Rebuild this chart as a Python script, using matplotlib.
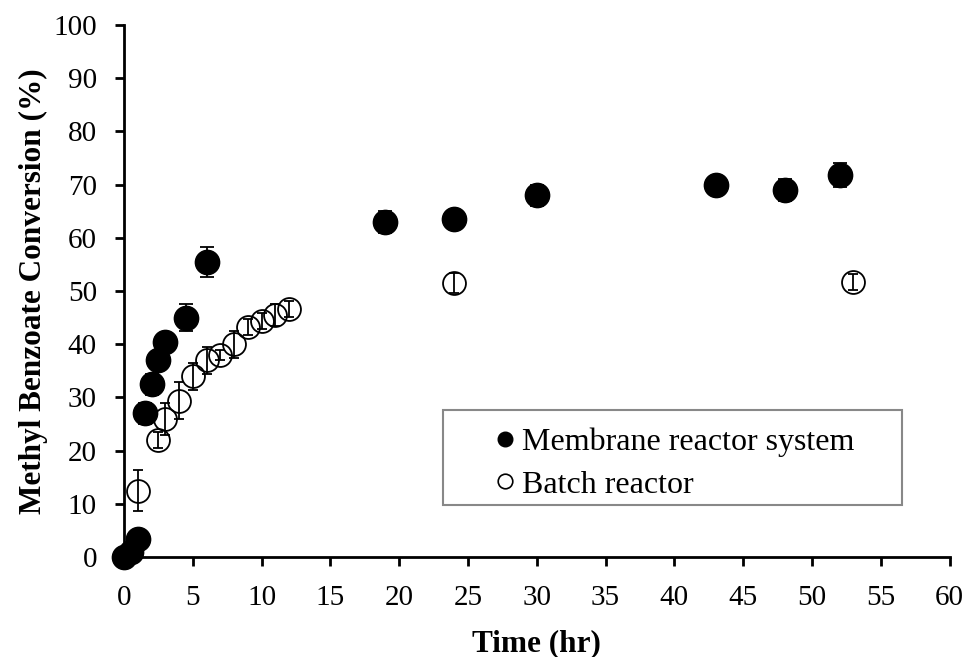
import numpy as np
import matplotlib.pyplot as plt
from matplotlib.lines import Line2D
from matplotlib.patches import Rectangle

# Membrane reactor system (filled)
mem_t = [0, 0.5, 1, 1.5, 2, 2.5, 3, 4.5, 6, 19, 24, 30, 43, 48, 52]
mem_conv = [0, 1, 3.5, 27, 32.5, 37, 40.5, 45, 55.5, 63, 63.5, 68, 70, 69, 71.8]
mem_err = [0.5, 0.5, 0.8, 2, 2, 1.5, 1.5, 2.5, 2.8, 2, 1.5, 2, 1.5, 2, 2.3]

# Batch reactor (open)
bat_t = [1, 2.5, 3, 4, 5, 6, 7, 8, 9, 10, 11, 12, 24, 53]
bat_conv = [12.5, 22, 26, 29.4, 34, 37, 38, 40, 43.3, 44.3, 45.5, 46.7, 51.5, 51.7]
bat_err = [3.9, 1.5, 3.0, 3.5, 2.5, 2.5, 1.0, 2.5, 1.5, 1.5, 2.0, 1.5, 1.8, 1.5]

plt.rcParams['font.family'] = 'Liberation Serif'

fig = plt.figure(figsize=(9.69, 6.57), dpi=100)
ax = fig.add_axes([0.128, 0.152, 0.852, 0.81])

ax.errorbar(bat_t, bat_conv, yerr=bat_err, fmt='o', mfc='none', mec='black',
            mew=1.3, ms=16.5, ecolor='black', elinewidth=1.3, capsize=3.5,
            capthick=1.3, zorder=2, clip_on=False)
ax.errorbar(mem_t, mem_conv, yerr=mem_err, fmt='o', mfc='black', mec='black',
            ms=17.5, ecolor='black', elinewidth=1.3, capsize=4.7, capthick=1.3,
            zorder=3, clip_on=False)

ax.set_xlim(0, 60)
ax.set_ylim(0, 100)
ax.set_xticks(np.arange(0, 61, 5))
ax.set_yticks(np.arange(0, 101, 10))
ax.spines['top'].set_visible(False)
ax.spines['right'].set_visible(False)
ax.spines['left'].set_linewidth(2)
ax.spines['bottom'].set_linewidth(2)
ax.tick_params(direction='out', length=6.5, width=2, labelsize=21)
ax.tick_params(axis='x', pad=13.5)
ax.tick_params(axis='y', pad=13)
ax.set_xlabel('Time (hr)', fontsize=22.5, fontweight='bold', labelpad=13)
ax.set_ylabel('Methyl Benzoate Conversion (%)', fontsize=22.5, fontweight='bold', labelpad=4)

# legend frame drawn separately so the entries can sit inset like the original
ax.add_patch(Rectangle((0.386, 0.098), 0.556, 0.178, transform=ax.transAxes,
                       fill=False, edgecolor='#888888', linewidth=1.5, zorder=5))
handles = [
    Line2D([], [], ls='none', marker='o', mfc='black', mec='black', ms=10.5),
    Line2D([], [], ls='none', marker='o', mfc='white', mec='black', ms=10.5, mew=1.2),
]
leg = ax.legend(handles, ['Membrane reactor system', 'Batch reactor'],
                loc='center left', bbox_to_anchor=(0.44, 0.176),
                borderaxespad=0, fontsize=23, frameon=False,
                handletextpad=0.0, handlelength=1.1, borderpad=0,
                labelspacing=0.42)

fig.savefig('out.png', dpi=100)
